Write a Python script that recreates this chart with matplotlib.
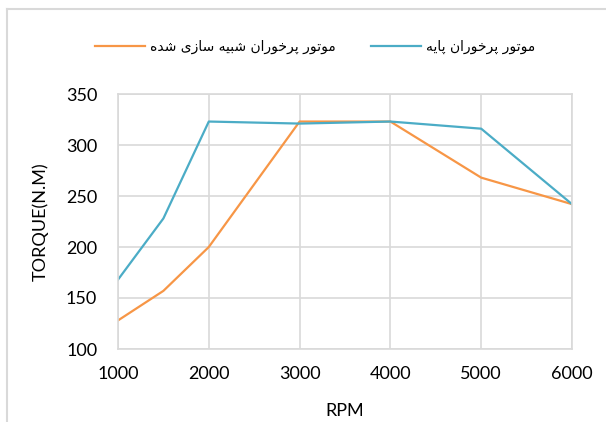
import matplotlib
matplotlib.use("Agg")
import matplotlib.pyplot as plt
from matplotlib.lines import Line2D

rpm_base = [1000, 1500, 2000, 3000, 4000, 5000, 6000]
torque_base = [168, 228, 323, 321, 323, 316, 242]
rpm_sim = [1000, 1500, 2000, 3000, 4000, 5000, 6000]
torque_sim = [128, 157, 200, 323, 323, 268, 242]
label_sim = "موتور پرخوران شبیه سازی شده"
label_base = "موتور پرخوران پایه"
xticks = [1000, 2000, 3000, 4000, 5000, 6000]
yticks = [100, 150, 200, 250, 300, 350]

# minimal arabic/persian shaping (matplotlib has no complex text layout)
# letter: (isolated, final, initial, medial); None for right-joining only
forms = {
    "م": ("\uFEE1", "\uFEE2", "\uFEE3", "\uFEE4"),
    "و": ("\uFEED", "\uFEEE", None, None),
    "ت": ("\uFE95", "\uFE96", "\uFE97", "\uFE98"),
    "ر": ("\uFEAD", "\uFEAE", None, None),
    "پ": ("\uFB56", "\uFB57", "\uFB58", "\uFB59"),
    "خ": ("\uFEA5", "\uFEA6", "\uFEA7", "\uFEA8"),
    "ا": ("\uFE8D", "\uFE8E", None, None),
    "ن": ("\uFEE5", "\uFEE6", "\uFEE7", "\uFEE8"),
    "ش": ("\uFEB5", "\uFEB6", "\uFEB7", "\uFEB8"),
    "ب": ("\uFE8F", "\uFE90", "\uFE91", "\uFE92"),
    "ی": ("\uFBFC", "\uFBFD", "\uFBFE", "\uFBFF"),
    "ه": ("\uFEE9", "\uFEEA", "\uFEEB", "\uFEEC"),
    "س": ("\uFEB1", "\uFEB2", "\uFEB3", "\uFEB4"),
    "ز": ("\uFEAF", "\uFEB0", None, None),
    "د": ("\uFEA9", "\uFEAA", None, None),
}


def shape(text):
    out = []
    for i, ch in enumerate(text):
        if ch not in forms:
            out.append(ch)
            continue
        prev = text[i - 1] if i > 0 else " "
        nxt = text[i + 1] if i + 1 < len(text) else " "
        join_prev = prev in forms and forms[prev][2] is not None
        join_next = nxt in forms and forms[ch][2] is not None
        iso, fin, ini, med = forms[ch]
        if join_prev and join_next:
            out.append(med)
        elif join_prev:
            out.append(fin)
        elif join_next:
            out.append(ini)
        else:
            out.append(iso)
    return "".join(out)[::-1]


plt.rcParams['font.family'] = ['Lato', 'DejaVu Sans']

fig = plt.figure(figsize=(6.06, 4.22), dpi=100)
ax = fig.add_axes([118 / 606, 1 - 349 / 422, 454 / 606, 255 / 422])

ax.plot(rpm_sim, torque_sim, color='#f79646', lw=1.6, label=shape(label_sim))
ax.plot(rpm_base, torque_base, color='#4bacc6', lw=1.6, label=shape(label_base))

ax.set_xlim(1000, 6000)
ax.set_ylim(100, 350)
ax.set_xticks(xticks)
ax.set_yticks(yticks)
ax.grid(True, color='#d9d9d9', lw=1.2)
ax.set_axisbelow(True)
for s in ax.spines.values():
    s.set_color('#d9d9d9')
    s.set_linewidth(1.2)
ax.tick_params(axis='y', length=0, labelsize=13, pad=15)
ax.tick_params(axis='x', length=0, labelsize=13, pad=12)
ax.set_xlabel("RPM", fontsize=13, labelpad=15)
ax.set_ylabel("TORQUE(N.M)", fontsize=13, labelpad=12)

# legend centred ~47px above the plot area
leg = ax.legend(loc='center', bbox_to_anchor=((315 - 118) / 454, 1 + 47 / 255), ncol=2,
                frameon=False, handlelength=3.6, handletextpad=0.4,
                columnspacing=2.5, prop={'family': ['DejaVu Sans'], 'size': 10})

# outer chart border (top and left visible)
fig.add_artist(Line2D([7 / 606, 7 / 606], [0, 1 - 9 / 422], transform=fig.transFigure,
                      color='#d9d9d9', lw=1.5))
fig.add_artist(Line2D([7 / 606, 1], [1 - 9 / 422, 1 - 9 / 422], transform=fig.transFigure,
                      color='#d9d9d9', lw=1.5))

fig.savefig("out.png", dpi=100)
